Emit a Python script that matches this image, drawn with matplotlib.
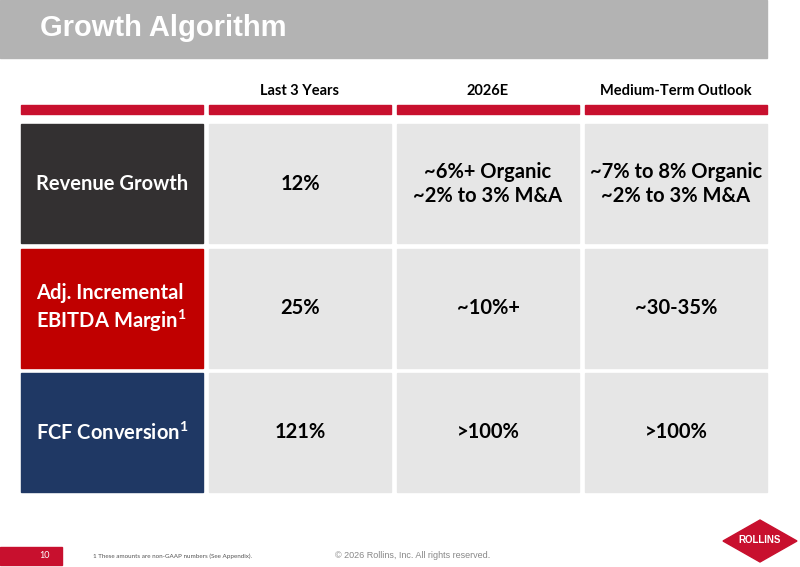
import matplotlib
matplotlib.use("Agg")
import matplotlib.pyplot as plt
from matplotlib.patches import Rectangle, Polygon

columns = ["Last 3 Years", "2026E", "Medium-Term Outlook"]
metrics = ["Revenue Growth", "Adj. Incremental\nEBITDA Margin$^\\mathbf{1}$", "FCF Conversion$^\\mathbf{1}$"]
last3 = ["12%", "25%", "121%"]
e2026 = ["~6%+ Organic\n~2% to 3% M&A", "~10%+", ">100%"]
medium = ["~7% to 8% Organic\n~2% to 3% M&A", "~30-35%", ">100%"]
row_colors = ["#333031", "#c00000", "#1f3864"]

fig = plt.figure(figsize=(8, 5.67), dpi=100)
ax = fig.add_axes([0, 0, 1, 1])
ax.set_xlim(0, 800); ax.set_ylim(567, 0); ax.axis("off")
F = "Lato"
plt.rcParams["mathtext.fontset"] = "custom"
plt.rcParams["mathtext.bf"] = "Lato:bold"
plt.rcParams["mathtext.rm"] = "Lato"

ax.add_patch(Rectangle((0, 0), 767, 58, color="#b3b3b3"))
ax.text(40, 28, "Growth Algorithm", color="white", fontsize=21, fontweight="bold",
        family="Liberation Sans", va="center")

xs = [21, 209, 397, 585]; w = 182
for i, c in enumerate(columns):
    ax.text(xs[i + 1] + w / 2, 91, c, ha="center", va="center", fontsize=10.5,
            fontweight="bold", family=F)
for x in xs:
    ax.add_patch(Rectangle((x, 105), w, 9, color="#c8102e"))

ys = [124, 249, 373]; h = 119
for r in range(3):
    y = ys[r]
    ax.add_patch(Rectangle((xs[0], y), w, h, color=row_colors[r]))
    ax.text(36, y + h / 2, metrics[r], color="white", fontsize=14.5, fontweight="bold",
            family=F, va="center", ha="left", linespacing=1.2)
    vals = [last3[r], e2026[r], medium[r]]
    for c in range(3):
        ax.add_patch(Rectangle((xs[c + 1], y), w, h, color="#e6e6e6"))
        ax.text(xs[c + 1] + w / 2, y + h / 2, vals[c], ha="center", va="center",
                fontsize=14.5, fontweight="bold", family=F, linespacing=1.25)

ax.add_patch(Rectangle((0, 547), 62, 18, color="#c8102e"))
ax.text(45, 556, "10", color="white", fontsize=6.5, ha="center", va="center", family=F)
ax.text(93, 556, "1 These amounts are non-GAAP numbers (See Appendix).", fontsize=4.5,
        va="center", family=F, color="#555555")
ax.text(335, 556, "© 2026 Rollins, Inc. All rights reserved.", fontsize=6.5,
        va="center", family="Liberation Sans", color="#888888")
ax.add_patch(Polygon([[723, 541], [760, 520], [797, 541], [760, 562]], color="#c8102e"))
ax.text(760, 540, "ROLLINS", color="white", fontsize=7, fontweight="bold",
        ha="center", va="center", family="Liberation Sans")
fig.savefig("out.png", dpi=100)
